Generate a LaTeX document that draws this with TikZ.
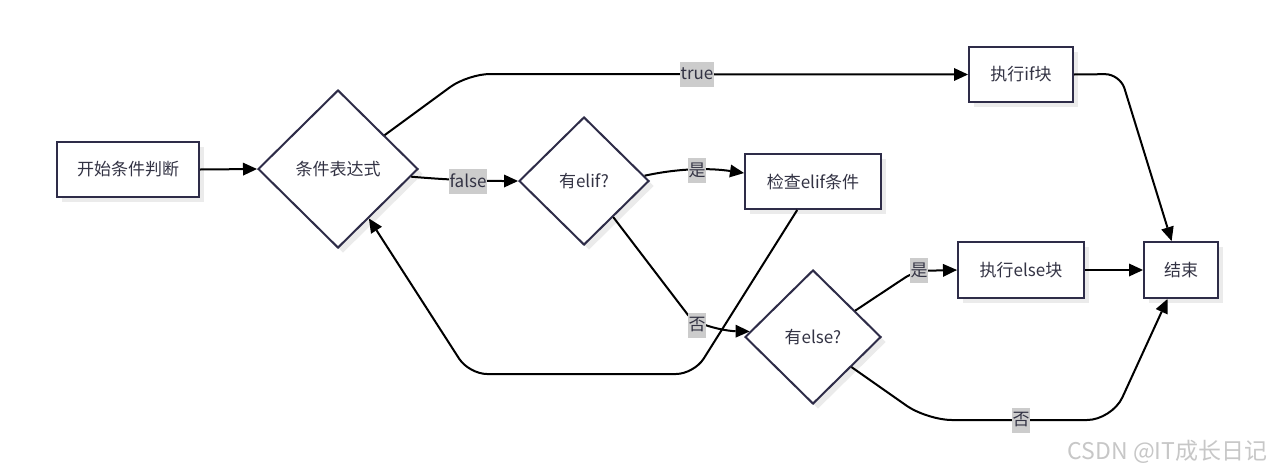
\documentclass[tikz,border=0pt]{standalone}
\usepackage{fontspec}
\setmainfont{Noto Sans CJK SC}
\usetikzlibrary{shapes.geometric,arrows.meta,shadows}
\definecolor{nodeline}{HTML}{2E2C48}
\definecolor{txt}{HTML}{333344}
\definecolor{lblbg}{HTML}{CCCCCC}
\definecolor{shad}{HTML}{EBEBEB}
\tikzset{
  shd/.style={drop shadow={shadow xshift=5pt, shadow yshift=-5pt, fill=shad, opacity=1}},
  box/.style={draw=nodeline, line width=2pt, fill=white, text=txt, minimum height=55pt, inner sep=0pt, shd},
  diam/.style={diamond, draw=nodeline, line width=2pt, fill=white, text=txt, inner sep=0pt, shd},
  conn/.style={draw=black, line width=2pt, arrows={-Triangle[length=14pt,width=13pt,line width=0pt]}},
  lbl/.style={fill=lblbg, text=txt, inner xsep=0.5pt, inner ysep=0pt, minimum height=25pt},
}
\begin{document}
\begin{tikzpicture}[x=1pt,y=-1pt,font=\fontsize{17}{20}\selectfont]
\useasboundingbox[fill=white] (0,0) rectangle (1276,472);
% nodes
\node[box, minimum width=142pt] (start) at (128,169.5) {开始条件判断};
\node[diam, minimum width=160pt, minimum height=158pt] (cond) at (338,169) {条件表达式};
\node[diam, minimum width=130pt, minimum height=128pt] (elif) at (584,181) {有elif?};
\node[box, minimum width=136pt] (check) at (813,181.5) {检查elif条件};
\node[diam, minimum width=136pt, minimum height=134pt] (elsq) at (813,337) {有else?};
\node[box, minimum width=104pt] (ifb) at (1021,74.5) {执行if块};
\node[box, minimum width=126pt, minimum height=56pt] (elseb) at (1021,270) {执行else块};
\node[box, minimum width=74pt, minimum height=56pt] (fin) at (1181,270) {结束};
% connectors
\draw[conn] (start.east) -- (cond.west);
\draw[conn, rounded corners=22pt] (cond.36) -- (468,74) -- (ifb.west);
\draw[conn] (cond.-6) .. controls (450,180) and (480,181) .. (elif.west);
\draw[conn] (elif.5) .. controls (680,168) and (710,168) .. (check.173);
\draw[conn] (elif.-51) -- (688,315) .. controls (696,325) and (725,331) .. (elsq.175);
\draw[conn, rounded corners=18pt] (check.-119) -- (694,374) -- (469,374) -- (cond.-58);
\draw[conn, rounded corners=12pt] (elsq.32) -- (915,271) -- (elseb.west);
\draw[conn, rounded corners=25pt] (elsq.-38) -- (927,420) -- (1112,420) -- (fin.-115);
\draw[conn, rounded corners=15pt] (ifb.east) -- (1120,74) -- (fin.108);
\draw[conn] (elseb.east) -- (fin.west);
% labels
\node[lbl] (ltrue) at (697,74) {true};
\node[lbl] (lfalse) at (468,181) {false};
\node[lbl] (lyes1) at (697,170) {是};
\node[lbl] (lno1) at (697,325) {否};
\node[lbl] (lyes2) at (919,270) {是};
\node[lbl] (lno2) at (1021,420) {否};
% watermark
\node[anchor=east, text=black!22, font=\fontsize{23}{26}\selectfont] (wm) at (1271,452) {CSDN @IT成长日记};
\end{tikzpicture}
\end{document}
